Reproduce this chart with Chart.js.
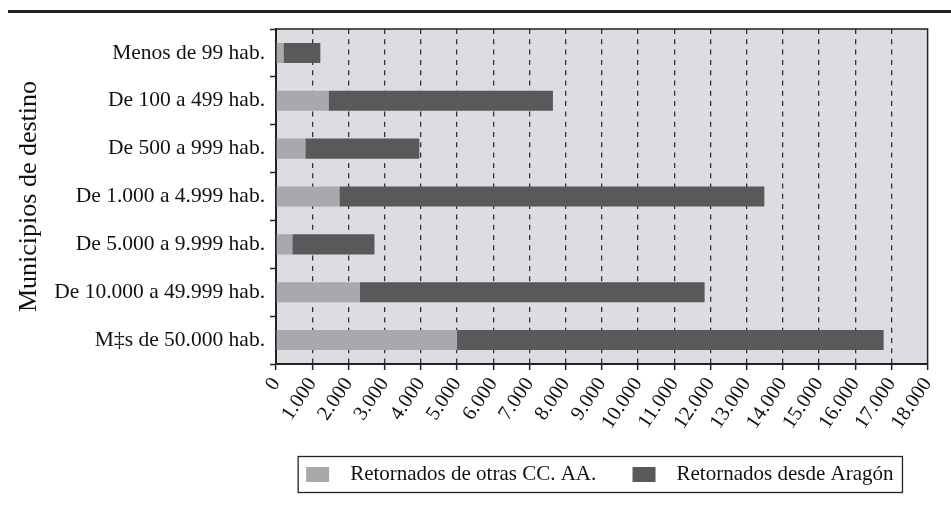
<!DOCTYPE html>
<html>
<head>
<meta charset="utf-8">
<script src="https://cdn.jsdelivr.net/npm/chart.js@4.4.1/dist/chart.umd.min.js"></script>
<style>
  html, body { margin: 0; padding: 0; background: #ffffff; }
  #caja { width: 951px; height: 505px; }
</style>
</head>
<body>
<div id="caja"><canvas id="grafico" width="951" height="505"></canvas></div>
<script>
const categorias = [
    'Menos de 99 hab.',
    'De 100 a 499 hab.',
    'De 500 a 999 hab.',
    'De 1.000 a 4.999 hab.',
    'De 5.000 a 9.999 hab.',
    'De 10.000 a 49.999 hab.',
    'M‡s de 50.000 hab.'
];
const retornadosOtrasCCAA = [205, 1450, 810, 1750, 450, 2320, 5000];
const retornadosDesdeAragon = [1020, 6200, 3150, 11740, 2270, 9520, 11785];
const etiquetasX = ['0', '1.000', '2.000', '3.000', '4.000', '5.000', '6.000', '7.000', '8.000', '9.000',
    '10.000', '11.000', '12.000', '13.000', '14.000', '15.000', '16.000', '17.000', '18.000'];

const colorTexto = '#111111';
const fuente = '"Liberation Serif", "Times New Roman", serif';

// fondo gris del area, marco y raya superior
const marcoPlugin = {
    id: 'marco',
    beforeDraw(chart) {
        const { ctx, chartArea: a } = chart;
        ctx.save();
        ctx.fillStyle = '#dcdde0';
        ctx.fillRect(a.left, a.top, a.right - a.left, a.bottom - a.top);
        ctx.fillStyle = '#222222';
        ctx.fillRect(8, 10, chart.width - 8, 3);
        ctx.restore();
    },
    afterLayout(chart) {
        // centrar la leyenda sobre el area del grafico
        const lg = chart.legend;
        lg.left = chart.chartArea.left - 4;
        lg.right = chart.chartArea.right;
        lg.width = lg.right - lg.left;
    },
    afterDraw(chart) {
        const { ctx, chartArea: a } = chart;
        ctx.save();
        ctx.strokeStyle = '#222222';
        ctx.lineWidth = 1.5;
        ctx.beginPath();
        ctx.moveTo(a.left, a.top);
        ctx.lineTo(a.right, a.top);
        ctx.lineTo(a.right, a.bottom);
        ctx.stroke();

        // recuadro de la leyenda
        const lg = chart.legend;
        const pad = lg.options.labels.padding;
        const ancho = lg.lineWidths[0];
        const x0 = (lg.left + pad + lg.right - ancho) / 2;
        const yc = lg.top + pad + 10.5;
        ctx.lineWidth = 1.3;
        ctx.strokeRect(x0 - 8, yc - 18, ancho - pad + 17, 36);
        ctx.restore();
    }
};

const dados = {
    labels: categorias,
    datasets: [{
        label: 'Retornados de otras CC. AA.',
        data: retornadosOtrasCCAA,
        backgroundColor: '#a8a9ac',
        borderWidth: 0,
        barPercentage: 0.42,
        categoryPercentage: 1
    },
    {
        label: 'Retornados desde Aragón',
        data: retornadosDesdeAragon,
        backgroundColor: '#58595b',
        borderWidth: 0,
        barPercentage: 0.42,
        categoryPercentage: 1
    }]
};

const config = {
    type: 'bar',
    data: dados,
    plugins: [marcoPlugin],
    options: {
        indexAxis: 'y',
        responsive: false,
        animation: false,
        layout: { padding: { left: 14, right: 20, top: 29, bottom: 10 } },
        scales: {
            x: {
                stacked: true,
                min: 0,
                max: 18000,
                afterFit(scale) { scale.height = 90; },
                ticks: {
                    stepSize: 1000,
                    autoSkip: false,
                    minRotation: 56,
                    maxRotation: 56,
                    padding: 3,
                    color: colorTexto,
                    font: { family: fuente, size: 20.5 },
                    callback: (valor, i) => etiquetasX[i]
                },
                grid: {
                    color: (c) => (c.tick && (c.tick.value === 0 || c.tick.value === 18000)) ? 'rgba(0,0,0,0)' : '#333333',
                    lineWidth: 1.3,
                    tickColor: '#222222',
                    tickLength: 6,
                    tickWidth: 1.5
                },
                border: { display: true, color: '#222222', width: 2, dash: [5, 5.3] }
            },
            y: {
                stacked: true,
                afterFit(scale) { scale.width = 262; },
                ticks: {
                    color: colorTexto,
                    padding: 5,
                    font: { family: fuente, size: 21.5 }
                },
                grid: {
                    offset: true,
                    drawOnChartArea: false,
                    tickColor: '#222222',
                    tickLength: 6,
                    tickWidth: 1.5
                },
                border: { display: true, color: '#222222', width: 2 },
                title: {
                    display: true,
                    text: 'Municipios de destino',
                    color: colorTexto,
                    font: { family: fuente, size: 26 },
                    padding: { top: 0, bottom: 0 }
                }
            }
        },
        plugins: {
            legend: {
                position: 'bottom',
                labels: {
                    color: colorTexto,
                    font: { family: fuente, size: 21 },
                    boxWidth: 23,
                    boxHeight: 15,
                    padding: 10,
                    generateLabels(chart) {
                        const base = Chart.defaults.plugins.legend.labels.generateLabels(chart);
                        base.forEach((item, i) => {
                            item.text = '  ' + item.text + (i === 0 ? '     ' : '');
                            item.lineWidth = 0;
                        });
                        return base;
                    }
                }
            },
            tooltip: { enabled: false }
        }
    }
};

Chart.defaults.font.family = fuente;

let graficoMunicipios = new Chart(document.getElementById('grafico'), config);
</script>
</body>
</html>
